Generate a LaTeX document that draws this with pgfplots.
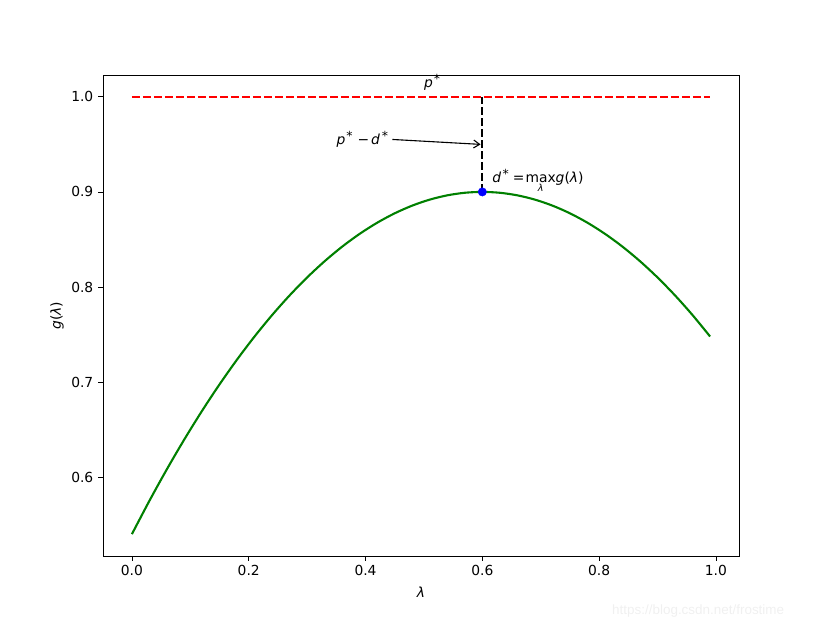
\documentclass[border=0pt]{standalone}
\usepackage{fontspec}
\setmainfont{DejaVu Sans}
\newfontfamily\wmfont{Liberation Sans}
\usepackage{pgfplots}
\pgfplotsset{compat=1.18}
\usetikzlibrary{arrows.meta}
\newcommand\st{\raisebox{3.5bp}{\fontsize{12.5}{13}\selectfont *}}
\newcommand\bigf{\fontsize{13.9}{16.5}\selectfont}
\begin{document}
\bigf
\begin{tikzpicture}
\path[use as bounding box] (0,0) rectangle (821bp,625bp);
\begin{axis}[
  at={(103bp,69bp)}, anchor=south west,
  scale only axis, width=636bp, height=481bp,
  xmin=-0.0495, xmax=1.0395, ymin=0.517, ymax=1.023,
  xtick={0,0.2,0.4,0.6,0.8,1.0},
  ytick={0.6,0.7,0.8,0.9,1.0},
  tick pos=left, tick align=outside,
  major tick length=4.9bp,
  every tick/.style={black, line width=0.8bp},
  axis line style={line width=0.8bp},
  /pgf/number format/assume math mode=true,
  xticklabel style={/pgf/number format/.cd, fixed, fixed zerofill, precision=1},
  yticklabel style={/pgf/number format/.cd, fixed, fixed zerofill, precision=1},
  tick label style={font=\bigf},
  label style={font=\bigf},
  xlabel={\itshape λ},
  ylabel={\itshape g\upshape(\itshape λ\upshape)},
  xlabel style={yshift=-1bp},
  ylabel style={yshift=-2bp},
  clip=false,
]
\addplot[red, line width=2.1bp, dash pattern=on 7.7bp off 3.3bp] coordinates {(0,1.0) (0.99,1.0)};
\addplot[black, line width=2.1bp, dash pattern=on 7.7bp off 3.3bp] coordinates {(0.6,0.9) (0.6,1.0)};
\addplot[green!50!black, line width=2.1bp, smooth] coordinates {
(0.00,0.54) (0.03,0.5751) (0.06,0.6084) (0.09,0.6399) (0.12,0.6696) (0.15,0.6975)
(0.18,0.7236) (0.21,0.7479) (0.24,0.7704) (0.27,0.7911) (0.30,0.81) (0.33,0.8271)
(0.36,0.8424) (0.39,0.8559) (0.42,0.8676) (0.45,0.8775) (0.48,0.8856) (0.51,0.8919)
(0.54,0.8964) (0.57,0.8991) (0.60,0.9) (0.63,0.8991) (0.66,0.8964) (0.69,0.8919)
(0.72,0.8856) (0.75,0.8775) (0.78,0.8676) (0.81,0.8559) (0.84,0.8424) (0.87,0.8271)
(0.90,0.81) (0.93,0.7911) (0.96,0.7704) (0.99,0.7479)};
\addplot[only marks, mark=*, mark size=4.2bp, blue] coordinates {(0.6,0.9)};
\node[anchor=base west, inner sep=0pt, font=\bigf] at (axis cs:0.5,1.01) {\itshape p\upshape\hspace{1bp}\st};
\node[anchor=base west, inner sep=0pt, font=\bigf] (pd) at (axis cs:0.35,0.95) {\itshape p\upshape\hspace{1bp}\st\hspace{5bp}−\hspace{2bp}\itshape d\upshape\hspace{2bp}\st};
\draw[-{Straight Barb[length=6bp,width=8bp]}, line width=1.1bp] ([xshift=4bp,yshift=0bp]pd.east) -- (axis cs:0.597,0.95);
\node[anchor=base west, inner sep=0pt, font=\bigf] at (axis cs:0.617,0.91) {\itshape d\upshape\hspace{1.5bp}\st\hspace{4bp}=\hspace{1bp}$\mathop{\hbox{max}}\limits_{\hbox{\fontsize{9.7}{10}\selectfont\itshape λ}}$\itshape g\upshape(\itshape λ\upshape)};
\end{axis}
\node[anchor=base west, text=gray!12, inner sep=0pt, font={\wmfont\fontsize{13.5}{15}\selectfont}] at (612bp,11bp) {https://blog.csdn.net/frostime};
\end{tikzpicture}
\end{document}
